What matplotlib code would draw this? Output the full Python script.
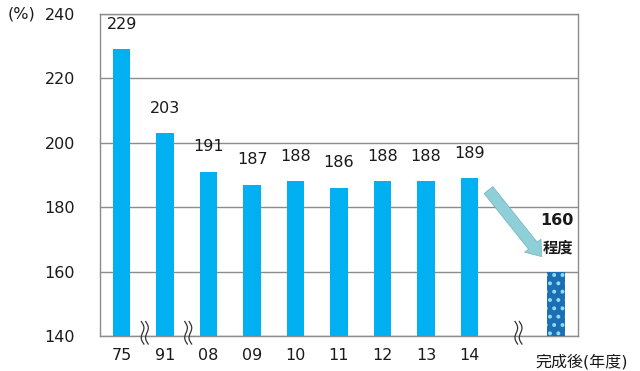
import matplotlib.pyplot as plt
import numpy as np

plt.rcParams['font.family'] = ['DejaVu Sans', 'Noto Sans CJK JP']
plt.rcParams['hatch.linewidth'] = 1.6

years = ["75", "91", "08", "09", "10", "11", "12", "13", "14"]
ratios = [229, 203, 191, 187, 188, 186, 188, 188, 189]
future_label = "完成後(年度)"
future_ratio = 160

blue = "#00b0f0"
grid_gray = "#8c8c8c"
txt = "#1a1a1a"

fig = plt.figure(figsize=(6.4, 3.71), dpi=100)
ax = fig.add_axes([100 / 640, 35 / 371, 478 / 640, 322 / 371])

x = np.arange(len(years))
x_future = len(years) + 1
ax.bar(x, ratios, width=0.4, color=blue, zorder=3)
ax.bar([x_future], [future_ratio], width=0.42, color="#1c6fb2",
       edgecolor="#8fdcf7", linewidth=0, hatch="..", zorder=3)

for xi, v in zip(x, ratios):
    ax.annotate(str(v), (xi, v), xytext=(0, 18), textcoords="offset points",
                ha="center", va="center", fontsize=11.5, color=txt)
ax.annotate(str(future_ratio), (x_future + 0.4, future_ratio),
            xytext=(0, 37), textcoords="offset points", ha="right",
            va="center", fontsize=11.5, fontweight="bold", color=txt)
ax.annotate("程度", (x_future + 0.4, future_ratio),
            xytext=(0, 17), textcoords="offset points", ha="right",
            va="center", fontsize=11, fontweight="bold", color=txt)

ax.set_xlim(-0.5, x_future + 0.5)
ax.set_ylim(140, 240)
ax.set_yticks(range(140, 241, 20))
ax.set_xticks(x)
ax.set_xticklabels(years)
ax.tick_params(length=0, labelsize=11.5, colors=txt)
ax.tick_params(axis="y", pad=18)
ax.tick_params(axis="x", pad=9)
ax.text(x_future + 0.58, -0.08, future_label, transform=ax.get_xaxis_transform(),
        ha="center", va="center", fontsize=11.5, color=txt)
ax.grid(axis="y", color=grid_gray, linewidth=1, zorder=0)
for s in ax.spines.values():
    s.set_color(grid_gray)
    s.set_linewidth(1)

fig.text(8 / 640, 1 - 14 / 371, "(%)", fontsize=11.5, va="center", color=txt)

# axis break marks between non-consecutive years
trans = ax.get_xaxis_transform()
t = np.linspace(0, 1, 40)
for xb in [0.5, 1.5, len(years) + 0.1]:
    for dx in (-0.05, 0.05):
        ax.plot(xb + dx + 0.045 * np.sin(t * 2 * np.pi) + 0.06 * t,
                0.045 - 0.07 * t, transform=trans, color="#333333",
                linewidth=0.9, clip_on=False, zorder=5)

# downward arrow toward the future value
ax.annotate("", xy=(x_future - 0.3, future_ratio + 4),
            xytext=(x[-1] + 0.4, ratios[-1] - 3),
            arrowprops=dict(arrowstyle="simple,head_length=1.0,head_width=1.5,tail_width=0.8",
                            color="#8fd0d8", ec="#6fb3bb", lw=0.5))

fig.savefig("out.png", dpi=100)
